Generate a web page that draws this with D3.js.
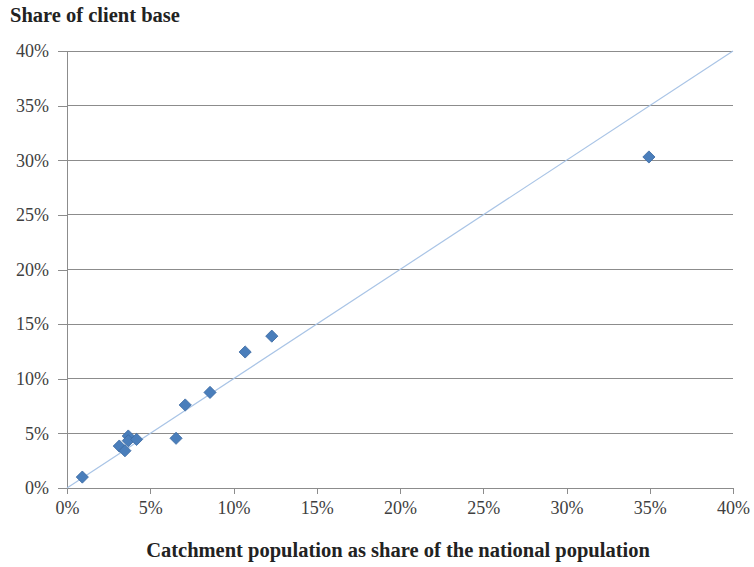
<!DOCTYPE html>
<html><head><meta charset="utf-8">
<script src="https://cdn.jsdelivr.net/npm/d3@7"></script>
<style>body{margin:0;background:#fff}svg{display:block}svg text{font-family:"Liberation Serif","DejaVu Serif",serif}</style>
</head><body>
<svg id="c" width="754" height="567"></svg>
<script>
const xValues = [0.0092, 0.0314, 0.0348, 0.0368, 0.0368, 0.0418, 0.0655, 0.071, 0.0859, 0.107, 0.123, 0.3495];
const yValues = [0.010, 0.0384, 0.0341, 0.0476, 0.0433, 0.0445, 0.0455, 0.0760, 0.0875, 0.1245, 0.139, 0.303];
const tickValues = [0, 0.05, 0.10, 0.15, 0.20, 0.25, 0.30, 0.35, 0.40];
const refLine = [[0, 0], [0.40, 0.40]];
const yTitle = "Share of client base";
const xTitle = "Catchment population as share of the national population";

const svg = d3.select("#c");
const L = 67, R = 733, T = 51, B = 488;
const x = d3.scaleLinear().domain([0, 0.4]).range([L, R]);
const y = d3.scaleLinear().domain([0, 0.4]).range([B, T]);
const fmt = d => Math.round(d * 100) + "%";

svg.append("g").selectAll("line").data(tickValues.filter(d => d > 0)).join("line")
  .attr("x1", L).attr("x2", R).attr("y1", d => y(d)).attr("y2", d => y(d))
  .attr("stroke", "#8c8c8c").attr("stroke-width", 1).attr("shape-rendering", "crispEdges");

const ya = svg.append("g").attr("transform", `translate(${L},0)`)
  .call(d3.axisLeft(y).tickValues(tickValues).tickFormat(fmt).tickSize(9).tickPadding(9));
const xa = svg.append("g").attr("transform", `translate(0,${B})`)
  .call(d3.axisBottom(x).tickValues(tickValues).tickFormat(fmt).tickSize(6).tickPadding(5));
[ya, xa].forEach(g => {
  g.attr("font-family", null).attr("font-size", null);
  g.select(".domain").attr("stroke", "#8c8c8c").attr("shape-rendering", "crispEdges");
  g.selectAll(".tick line").attr("stroke", "#8c8c8c").attr("shape-rendering", "crispEdges");
  g.selectAll("text").style("font-size", "18px").attr("fill", "#404040");
});
xa.selectAll("text").attr("dy", "0.85em");

svg.append("line")
  .attr("x1", x(refLine[0][0])).attr("y1", y(refLine[0][1]))
  .attr("x2", x(refLine[1][0])).attr("y2", y(refLine[1][1]))
  .attr("stroke", "#a9c4e6").attr("stroke-width", 1.2);

const sym = d3.symbol().type(d3.symbolSquare).size(74);
svg.append("g").selectAll("path").data(xValues.map((v, i) => [v, yValues[i]])).join("path")
  .attr("d", sym)
  .attr("transform", d => `translate(${x(d[0])},${y(d[1])}) rotate(45)`)
  .attr("fill", "#4a7ebb").attr("stroke", "#3c6aa3").attr("stroke-width", 0.8);

svg.append("text").attr("x", 10).attr("y", 22).text(yTitle)
  .style("font-size", "20.5px").attr("font-weight", "bold").attr("fill", "#222");
svg.append("text").attr("x", 398).attr("y", 557).attr("text-anchor", "middle").text(xTitle)
  .style("font-size", "20.5px").attr("font-weight", "bold").attr("fill", "#222");
</script>
</body></html>
